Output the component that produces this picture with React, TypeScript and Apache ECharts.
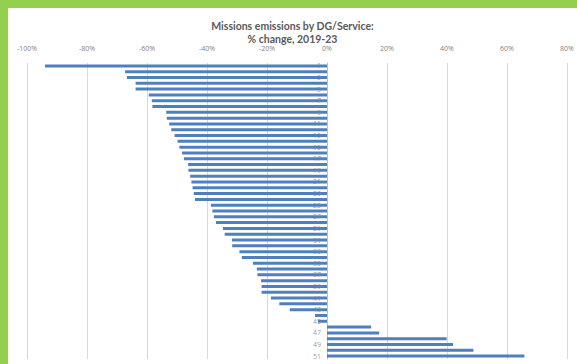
import React, { useEffect, useRef } from "react";
import * as echarts from "echarts";

const titleLines = ["Missions emissions by DG/Service:", "% change, 2019-23"];

const categories = [
  "1", "2", "3", "4", "5", "6", "7", "8", "9", "10",
  "11", "12", "13", "14", "15", "16", "17", "18", "19", "20",
  "21", "22", "23", "24", "25", "26", "27", "28", "29", "30",
  "31", "32", "33", "34", "35", "36", "37", "38", "39", "40",
  "41", "42", "43", "44", "45", "46", "47", "48", "49", "50", "51",
];

const pctChange = [
  -94, -67.3, -66.7, -63.8, -63.8, -59.4, -58.4, -58.2, -53.6, -53.4,
  -52.6, -51.9, -50.8, -49.8, -49.2, -48.3, -47.7, -46.3, -46.2, -45.6,
  -45.2, -44.8, -44.4, -44, -38.7, -38.2, -37.7, -37, -34.7, -34.1,
  -31.7, -31.6, -29.2, -28.4, -24.7, -23.4, -23.2, -22, -21.8, -21.8,
  -18.7, -15.9, -12.4, -4, -3, 14.7, 17.4, 39.9, 42, 48.8, 65.8,
];

const xMin = -100;
const xMax = 80;
const xStep = 20;

export default function App() {
  const ref = useRef<HTMLDivElement>(null);
  useEffect(() => {
    if (!ref.current) return;
    const chart = echarts.init(ref.current, undefined, { renderer: "svg" });
    const labelPoints = categories.map((c, i) => [0, c, i]);
    const titleStyle = {
      fontFamily: "Lato",
      fontSize: 10.5,
      fontWeight: 700,
      color: "#595959",
      lineHeight: 12,
    };
    chart.setOption({
      animation: false,
      backgroundColor: "#ffffff",
      textStyle: { fontFamily: "Open Sans" },
      title: titleLines.map((t, i) => ({
        text: t,
        left: "center",
        top: 11.5 + i * 13,
        padding: 0,
        textStyle: titleStyle,
      })),
      grid: { left: 19, right: 10, top: 55, bottom: 5, containLabel: false },
      xAxis: {
        type: "value",
        position: "top",
        min: xMin,
        max: xMax,
        interval: xStep,
        axisLine: { show: false },
        axisTick: { show: false },
        axisLabel: {
          formatter: (v: number) => `${v}%`,
          fontSize: 7,
          lineHeight: 7,
          color: "#7f7f7f",
          margin: 11,
        },
        splitLine: { show: true, lineStyle: { color: "#d9d9d9", width: 1 } },
      },
      yAxis: {
        type: "category",
        data: categories,
        inverse: true,
        axisLine: { show: true, onZero: true, lineStyle: { color: "#bfbfbf" } },
        axisTick: { show: false },
        axisLabel: { show: false },
        splitLine: { show: false },
      },
      series: [
        {
          type: "bar",
          data: pctChange,
          barWidth: 3,
          itemStyle: { color: "#4f7fbf" },
          z: 2,
        },
        {
          type: "scatter",
          data: labelPoints,
          symbolSize: 0,
          silent: true,
          z: 4,
          label: {
            show: true,
            position: "left",
            distance: 6,
            fontSize: 7,
            color: "#7f7f7f",
            formatter: (p: any) => (p.value[2] % 2 === 0 ? p.value[1] : ""),
          },
        },
      ],
    });
    return () => chart.dispose();
  }, []);
  return (
    <div
      style={{
        position: "fixed",
        left: 0,
        top: 0,
        width: 577,
        height: 364,
        background: "#92d050",
        overflow: "hidden",
      }}
    >
      <div
        ref={ref}
        style={{ position: "absolute", left: 8, top: 8, width: 569, height: 356 }}
      />
    </div>
  );
}
